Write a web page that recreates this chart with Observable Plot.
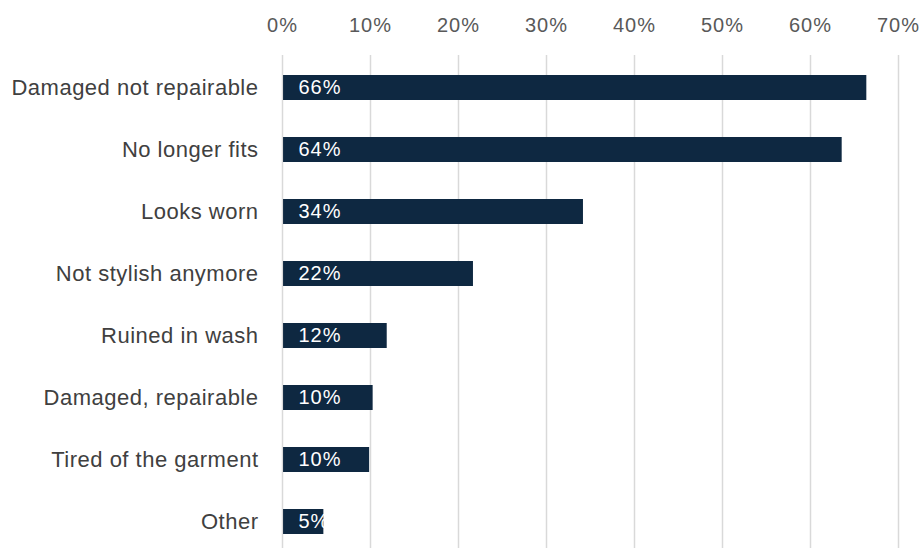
<!DOCTYPE html>
<html>
<head>
<meta charset="utf-8">
<script src="https://cdn.jsdelivr.net/npm/d3@7"></script>
<script src="https://cdn.jsdelivr.net/npm/@observablehq/plot@0.6"></script>
<style>
  html, body { margin: 0; padding: 0; background: #fff; overflow: hidden; }
  svg { display: block; }
</style>
</head>
<body>
<div id="chart"></div>
<script>
const categories = ["Damaged not repairable", "No longer fits", "Looks worn", "Not stylish anymore", "Ruined in wash", "Damaged, repairable", "Tired of the garment", "Other"];
const shares = [0.664, 0.636, 0.342, 0.217, 0.119, 0.103, 0.099, 0.047];
const xTicks = [0, 0.1, 0.2, 0.3, 0.4, 0.5, 0.6, 0.7];

const data = categories.map((c, i) => ({category: c, value: shares[i]}));
const pct = d3.format(".0%");
const font = "Liberation Sans, Arial, sans-serif";

const chart = Plot.plot({
  width: 923,
  height: 548,
  marginLeft: 283,
  marginRight: 25,
  marginTop: 55,
  marginBottom: 0,
  style: {fontFamily: font, fontSize: "19px", background: "#fff"},
  x: {domain: [0, 0.7], range: [282, 898], axis: null},
  y: {domain: categories, range: [55, 554], paddingInner: 0.6, paddingOuter: 0.3, axis: null},
  marks: [
    Plot.ruleX(xTicks, {stroke: "#d9d9d9", strokeWidth: 1.5}),
    Plot.barX(data, {x1: 0.0012, x2: "value", y: "category", fill: "#0e2841"}),
    Plot.text(data, {x: 0, y: "category", text: d => pct(d.value), fill: "#fff", textAnchor: "start", dx: 16, fontSize: 20, lineAnchor: "middle", style: "letter-spacing:0.8px"}),
    Plot.text(data, {x: 0, y: "category", text: "category", fill: "#404040", textAnchor: "end", dx: -24, fontSize: 22, lineAnchor: "middle", dy: 0}),
    Plot.text(xTicks, {x: d => d, frameAnchor: "top", lineAnchor: "middle", dy: -30, text: d => pct(d), fill: "#595959", fontSize: 20})
  ]
});
chart.querySelectorAll("g[aria-label=text]").forEach((g, i) => {
  g.setAttribute("letter-spacing", i === 1 ? "0.5px" : "1px");
});
document.getElementById("chart").appendChild(chart);
</script>
</body>
</html>
